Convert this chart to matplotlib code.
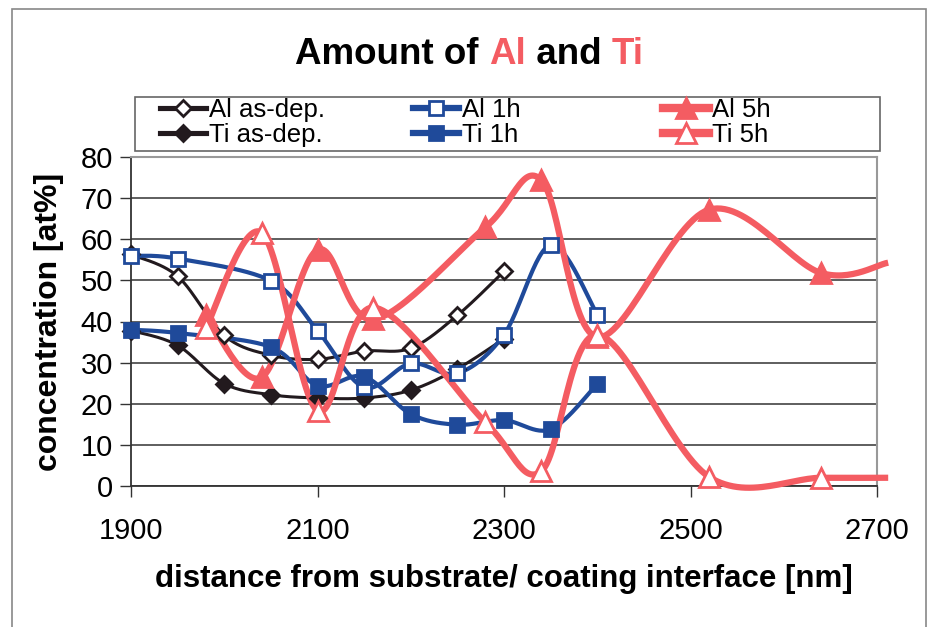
import numpy as np
import matplotlib
matplotlib.use("Agg")
import matplotlib.pyplot as plt
from matplotlib.patches import Rectangle

plt.rcParams['font.family'] = ['Liberation Sans', 'DejaVu Sans']

# data
x_asdep = [1900, 1950, 2000, 2050, 2100, 2150, 2200, 2250, 2300]
al_asdep = [56.3, 51.0, 36.6, 31.8, 30.8, 32.8, 33.5, 41.5, 52.2]
ti_asdep = [37.8, 34.2, 24.9, 22.2, 21.4, 21.4, 23.3, 28.5, 35.8]

x_1h = [1900, 1950, 2050, 2100, 2150, 2200, 2250, 2300, 2350, 2400]
al_1h = [56.0, 55.3, 49.9, 37.8, 24.0, 29.8, 27.4, 36.8, 58.6, 41.7]
ti_1h = [38.0, 37.2, 33.8, 24.4, 26.6, 17.5, 14.9, 16.0, 13.8, 24.8]

# last 5h point lies just past the axis end (line runs out of the box)
x_5h = [1980, 2040, 2100, 2160, 2280, 2340, 2400, 2520, 2640, 2712]
al_5h = [41.6, 26.4, 57.4, 40.5, 62.9, 74.4, 36.2, 67.2, 51.8, 54.3]
ti_5h = [38.3, 61.6, 18.3, 43.4, 15.5, 3.6, 36.8, 2.2, 2.0, 2.0]

c_black = '#221a1e'
c_blue = '#1f4a9a'
c_red = '#f45c62'


def smooth(xs, ys, n=30):
    # Catmull-Rom spline, close to Excel's smoothed lines
    xs = np.asarray(xs, float)
    ys = np.asarray(ys, float)
    px = np.concatenate([[xs[0]], xs, [xs[-1]]])
    py = np.concatenate([[ys[0]], ys, [ys[-1]]])
    ox, oy = [], []
    t = np.linspace(0, 1, n)
    for i in range(1, len(px) - 2):
        for p, out in ((px, ox), (py, oy)):
            p0, p1, p2, p3 = p[i - 1], p[i], p[i + 1], p[i + 2]
            out.extend(0.5 * ((2 * p1) + (-p0 + p2) * t
                              + (2 * p0 - 5 * p1 + 4 * p2 - p3) * t ** 2
                              + (-p0 + 3 * p1 - 3 * p2 + p3) * t ** 3))
    return np.array(ox), np.array(oy)


fig = plt.figure(figsize=(9.3, 6.27), dpi=100)
ax = fig.add_axes([131 / 930, 1 - 486 / 627, 746 / 930, 329 / 627])

series = [
    (x_asdep, al_asdep, c_black, 2.2, 'D', 'white', 8, 'Al as-dep.'),
    (x_asdep, ti_asdep, c_black, 2.2, 'D', c_black, 8, 'Ti as-dep.'),
    (x_1h, al_1h, c_blue, 3.0, 's', 'white', 10, 'Al 1h'),
    (x_1h, ti_1h, c_blue, 3.0, 's', c_blue, 10, 'Ti 1h'),
    (x_5h, al_5h, c_red, 4.5, '^', c_red, 14, 'Al 5h'),
    (x_5h, ti_5h, c_red, 4.5, '^', 'white', 14, 'Ti 5h'),
]

handles = []
for xs, ys, col, lw, mk, mfc, ms, lab in series:
    sx, sy = smooth(xs, ys)
    ax.plot(sx, sy, color=col, lw=lw, clip_on=False, zorder=3,
            solid_capstyle='butt')
    mx, my = (xs[:-1], ys[:-1]) if xs is x_5h else (xs, ys)
    ax.plot(mx, my, ls='none', marker=mk, ms=ms, mfc=mfc, mec=col,
            mew=2, zorder=4, clip_on=False)
    h, = ax.plot([], [], color=col, lw=lw + 1.5, marker=mk, ms=ms,
                 mfc=mfc, mec=col, mew=2)
    handles.append(h)

ax.set_xlim(1900, 2700)
ax.set_ylim(0, 80)
ax.set_xticks([1900, 2100, 2300, 2500, 2700])
ax.set_yticks(range(0, 81, 10))
ax.tick_params(labelsize=21, direction='out', length=8, width=1,
               color='#333333')
ax.tick_params(axis='x', pad=14)
ax.tick_params(axis='y', pad=5)
ax.grid(axis='y', color='#333333', lw=1.1)
ax.set_axisbelow(True)
for s in ('left', 'bottom'):
    ax.spines[s].set_color('#333333')
    ax.spines[s].set_linewidth(1.3)
for s in ('top', 'right'):
    ax.spines[s].set_color('#999999')
    ax.spines[s].set_linewidth(1.5)

ax.set_xlabel('distance from substrate/ coating interface [nm]',
              fontsize=22.5, fontweight='bold', labelpad=14)
ax.set_ylabel('concentration [at%]', fontsize=23, fontweight='bold',
              labelpad=12)

# legend: three columns at fixed places inside one box
labels = [s[7] for s in series]
for k, xpos in enumerate([160, 413, 663]):
    fig.legend(handles[2 * k:2 * k + 2], labels[2 * k:2 * k + 2],
               loc='upper left', bbox_to_anchor=(xpos / 930, 1 - 98 / 627),
               fontsize=18.5, frameon=False, handlelength=1.8,
               handletextpad=0.1, labelspacing=0.02, borderpad=0,
               borderaxespad=0)
fig.patches.append(Rectangle((135 / 930, 1 - 151 / 627), 745 / 930, 54 / 627,
                             transform=fig.transFigure, fill=False,
                             ec='#666666', lw=1.2, zorder=5))

# title with coloured element names
parts = [('Amount of ', 'black'), ('Al', c_red), (' and ', 'black'), ('Ti', c_red)]
prev = fig.text(295 / 930, 1 - 64 / 627, parts[0][0], fontsize=26.5,
                fontweight='bold', color=parts[0][1])
for txt, col in parts[1:]:
    prev = ax.annotate(txt, xy=(1, 0), xycoords=prev, fontsize=26.5,
                       fontweight='bold', color=col, va='bottom',
                       annotation_clip=False)

# outer chart frame
fig.patches.append(Rectangle((12 / 930, -0.05), 914 / 930, 1.05 - 9 / 627,
                             transform=fig.transFigure, fill=False,
                             ec='#888888', lw=1.2))

fig.savefig('out.png', dpi=100)
